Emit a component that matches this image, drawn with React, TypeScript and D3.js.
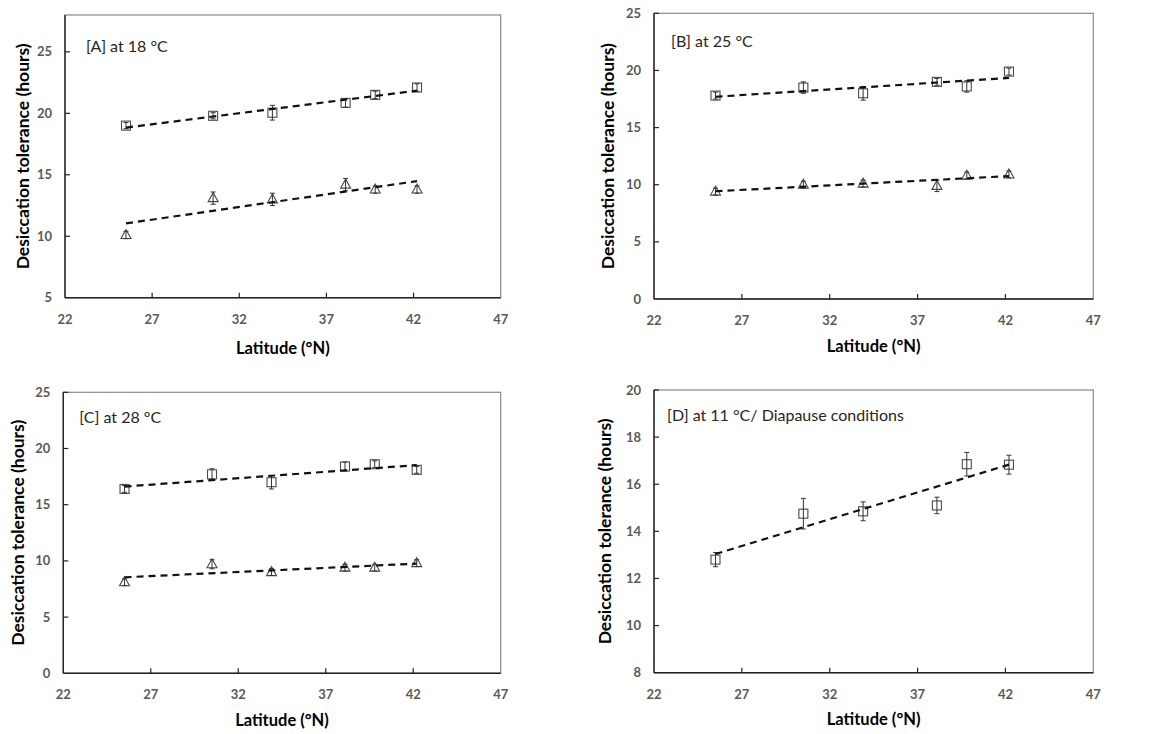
import React from 'react';
import * as d3 from 'd3';

// ---------- data ----------
const latitudes = [25.5, 30.5, 33.9, 38.1, 39.8, 42.2];
const xTicks = [22, 27, 32, 37, 42, 47];

const aSquares = [19.0, 19.8, 20.05, 20.85, 21.5, 22.1];
const aSquaresErr = [0.25, 0.25, 0.6, 0.35, 0.3, 0.3];
const aTriangles = [10.1, 13.1, 13.0, 14.2, 13.8, 13.8];
const aTrianglesErr = [0.3, 0.5, 0.5, 0.5, 0.3, 0.3];
const aYTicks = [5, 10, 15, 20, 25];

const bSquares = [17.8, 18.5, 18.0, 19.0, 18.6, 19.9];
const bSquaresErr = [0.3, 0.5, 0.6, 0.3, 0.5, 0.3];
const bTriangles = [9.4, 10.0, 10.1, 9.9, 10.8, 10.9];
const bTrianglesErr = [0.3, 0.3, 0.3, 0.5, 0.3, 0.3];
const bYTicks = [0, 5, 10, 15, 20, 25];

const cSquares = [16.4, 17.7, 17.0, 18.4, 18.6, 18.1];
const cSquaresErr = [0.3, 0.5, 0.6, 0.4, 0.3, 0.3];
const cTriangles = [8.1, 9.7, 9.0, 9.4, 9.4, 9.8];
const cTrianglesErr = [0.3, 0.4, 0.3, 0.3, 0.3, 0.3];
const cYTicks = [0, 5, 10, 15, 20, 25];

const dSquares = [12.8, 14.75, 14.85, 15.1, 16.85, 16.83];
const dSquaresErr = [0.3, 0.65, 0.4, 0.35, 0.5, 0.4];
const dYTicks = [8, 10, 12, 14, 16, 18, 20];

const yTitle = 'Desiccation tolerance (hours)';
const xTitle = 'Latitude (°N)';

// ---------- layout ----------
const FONT = 'Lato, "Open Sans", sans-serif';

type Series = { values: number[]; errors: number[]; marker: 'square' | 'triangle' };
type PanelProps = {
  left: number; top: number; right: number; bottom: number;
  yDomain: [number, number]; yTicks: number[];
  title: string; titleDx: number; titleDy: number;
  yTitleX: number; xTickY: number; xTitleY: number;
  series: Series[];
};

function regression(xs: number[], ys: number[]) {
  const mx = d3.mean(xs) as number;
  const my = d3.mean(ys) as number;
  const sxy = d3.sum(xs, (x, i) => (x - mx) * (ys[i] - my));
  const sxx = d3.sum(xs, (x) => (x - mx) * (x - mx));
  const slope = sxy / sxx;
  return (x: number) => my + slope * (x - mx);
}

function Panel(p: PanelProps) {
  const x = d3.scaleLinear().domain([xTicks[0], xTicks[xTicks.length - 1]]).range([p.left, p.right]);
  const y = d3.scaleLinear().domain(p.yDomain).range([p.bottom, p.top]);
  const line = d3.line<[number, number]>().x((d) => x(d[0])).y((d) => y(d[1]));
  const cx = (p.left + p.right) / 2;
  const cy = (p.top + p.bottom) / 2;
  return (
    <g>
      <rect x={p.left} y={p.top} width={p.right - p.left} height={p.bottom - p.top} fill="white" stroke="#8a8a8a" strokeWidth={1.2} />
      <line x1={p.left} x2={p.left} y1={p.top} y2={p.bottom} stroke="#222" strokeWidth={1.4} />
      <line x1={p.left} x2={p.right} y1={p.bottom} y2={p.bottom} stroke="#222" strokeWidth={1.4} />
      {xTicks.map((t) => (
        <g key={'xt' + t}>
          {t !== xTicks[0] && t !== xTicks[xTicks.length - 1] && (
            <line x1={x(t)} x2={x(t)} y1={p.bottom} y2={p.bottom - 5} stroke="#222" strokeWidth={1.2} />
          )}
          <text x={x(t)} y={p.xTickY} textAnchor="middle" fontFamily={FONT} fontWeight="bold" fontSize={13} fill="#595959">{t}</text>
        </g>
      ))}
      {p.yTicks.map((t) => (
        <g key={'yt' + t}>
          {t !== p.yDomain[0] && (
            <line x1={p.left} x2={p.left + 5} y1={y(t)} y2={y(t)} stroke="#222" strokeWidth={1.2} />
          )}
          <text x={p.left - 13} y={y(t) + 4.5} textAnchor="end" fontFamily={FONT} fontWeight="bold" fontSize={13} fill="#595959">{t}</text>
        </g>
      ))}
      <text x={p.left + p.titleDx} y={p.top + p.titleDy} fontFamily={FONT} fontSize={16} fill="#262626">{p.title}</text>
      <text transform={`translate(${p.yTitleX},${cy}) rotate(-90)`} textAnchor="middle" dominantBaseline="central" fontFamily={FONT} fontWeight="bold" fontSize={17.5} fill="#000">{yTitle}</text>
      <text x={cx} y={p.xTitleY} textAnchor="middle" fontFamily={FONT} fontWeight="bold" fontSize={16.5} fill="#000">{xTitle}</text>
      {p.series.map((s, si) => {
        const f = regression(latitudes, s.values);
        const x0 = latitudes[0];
        const x1 = latitudes[latitudes.length - 1];
        return (
          <g key={'s' + si}>
            {s.values.map((v, i) => {
              const px = x(latitudes[i]);
              const py = y(v);
              return s.marker === 'square' ? (
                <rect key={'m' + i} x={px - 4.5} y={py - 4.5} width={9} height={9} fill="none" stroke="#4a4a4a" strokeWidth={1.1} />
              ) : (
                <path key={'m' + i} d={`M${px},${py - 5.5} L${px + 5},${py + 3.5} L${px - 5},${py + 3.5} Z`} fill="none" stroke="#4a4a4a" strokeWidth={1.1} />
              );
            })}
            {s.values.map((v, i) => {
              const px = x(latitudes[i]);
              const yt = y(v + s.errors[i]);
              const yb = y(v - s.errors[i]);
              return (
                <g key={'e' + i} stroke="#333" strokeWidth={1}>
                  <line x1={px} x2={px} y1={yt} y2={yb} />
                  <line x1={px - 2.5} x2={px + 2.5} y1={yt} y2={yt} />
                  <line x1={px - 2.5} x2={px + 2.5} y1={yb} y2={yb} />
                </g>
              );
            })}
            <path d={line([[x0, f(x0)], [x1, f(x1)]]) as string} fill="none" stroke="#111" strokeWidth={2.2} strokeDasharray="7 5" />
          </g>
        );
      })}
    </g>
  );
}

export default function App() {
  return (
    <svg width={1157} height={734} style={{ display: 'block', position: 'absolute', left: 0, top: 0 }}>
      <rect x={0} y={0} width={1157} height={734} fill="white" />
      <Panel left={65} top={15} right={500.7} bottom={297.7} yDomain={[5, 28]} yTicks={aYTicks}
        title="[A] at 18 °C" titleDx={21} titleDy={37} yTitleX={22} xTickY={324} xTitleY={354}
        series={[{ values: aSquares, errors: aSquaresErr, marker: 'square' }, { values: aTriangles, errors: aTrianglesErr, marker: 'triangle' }]} />
      <Panel left={654} top={13.3} right={1093.3} bottom={299} yDomain={[0, 25]} yTicks={bYTicks}
        title="[B] at 25 °C" titleDx={17} titleDy={34} yTitleX={607} xTickY={325} xTitleY={352}
        series={[{ values: bSquares, errors: bSquaresErr, marker: 'square' }, { values: bTriangles, errors: bTrianglesErr, marker: 'triangle' }]} />
      <Panel left={63.3} top={392.3} right={500.7} bottom={673.3} yDomain={[0, 25]} yTicks={cYTicks}
        title="[C] at 28 °C" titleDx={16} titleDy={31} yTitleX={17} xTickY={699} xTitleY={726}
        series={[{ values: cSquares, errors: cSquaresErr, marker: 'square' }, { values: cTriangles, errors: cTrianglesErr, marker: 'triangle' }]} />
      <Panel left={654} top={390} right={1093.3} bottom={672.7} yDomain={[8, 20]} yTicks={dYTicks}
        title="[D] at 11 °C/ Diapause conditions" titleDx={13} titleDy={31} yTitleX={604} xTickY={699} xTitleY={725}
        series={[{ values: dSquares, errors: dSquaresErr, marker: 'square' }]} />
    </svg>
  );
}
